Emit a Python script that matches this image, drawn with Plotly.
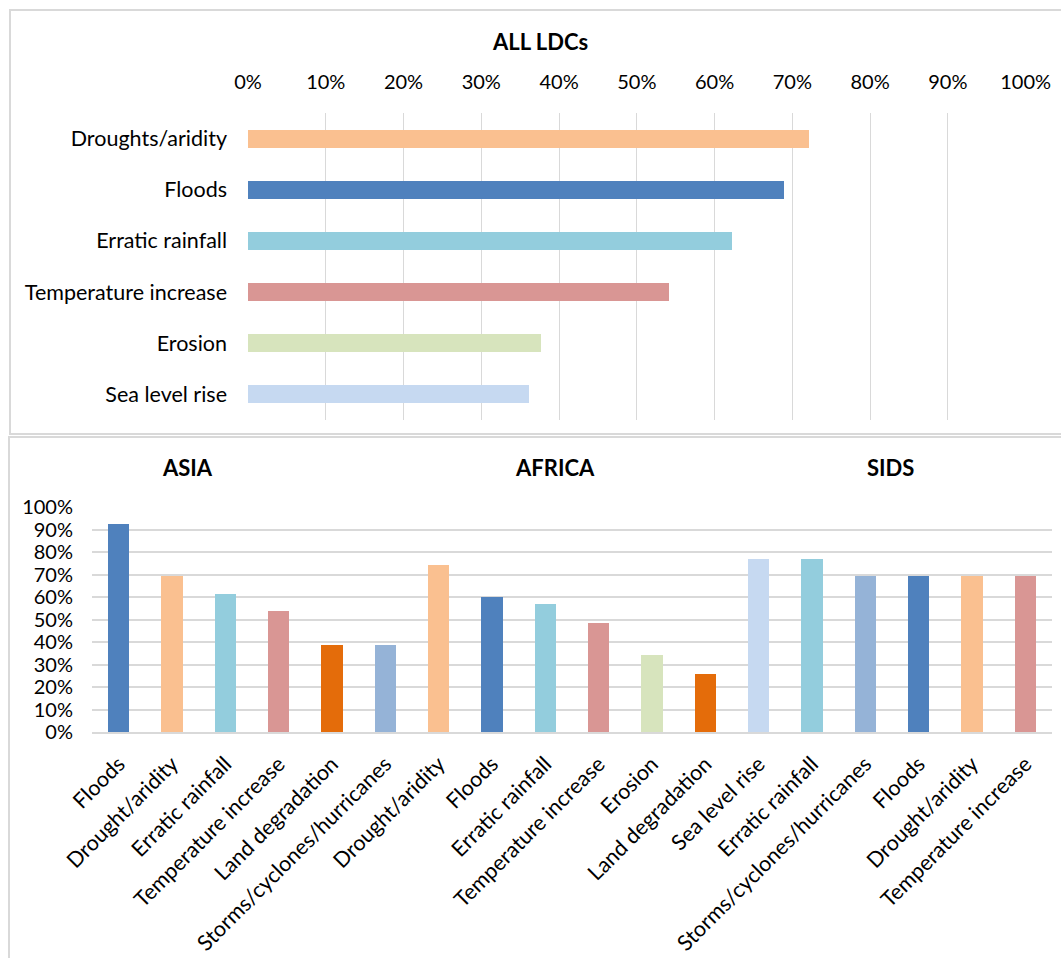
import plotly.graph_objects as go

W, H = 1061, 958

# ---- Data ----
ldc_categories = ["Droughts/aridity", "Floods", "Erratic rainfall",
                  "Temperature increase", "Erosion", "Sea level rise"]
ldc_values = [0.721, 0.689, 0.623, 0.541, 0.377, 0.361]

asia_categories = ["Floods", "Drought/aridity", "Erratic rainfall",
                   "Temperature increase", "Land degradation",
                   "Storms/cyclones/hurricanes"]
asia_values = [0.923, 0.692, 0.615, 0.538, 0.385, 0.385]

africa_categories = ["Drought/aridity", "Floods", "Erratic rainfall",
                     "Temperature increase", "Erosion", "Land degradation"]
africa_values = [0.743, 0.600, 0.571, 0.486, 0.343, 0.257]

sids_categories = ["Sea level rise", "Erratic rainfall",
                   "Storms/cyclones/hurricanes", "Floods",
                   "Drought/aridity", "Temperature increase"]
sids_values = [0.769, 0.769, 0.692, 0.692, 0.692, 0.692]

group_titles = ["ASIA", "AFRICA", "SIDS"]

# ---- Styles ----
hazard_colors = {
    "Floods": "#4F81BD",
    "Droughts/aridity": "#FAC090",
    "Drought/aridity": "#FAC090",
    "Erratic rainfall": "#93CDDD",
    "Temperature increase": "#D99694",
    "Erosion": "#D7E4BD",
    "Sea level rise": "#C6D9F1",
    "Land degradation": "#E46C0A",
    "Storms/cyclones/hurricanes": "#95B3D7",
}
FONT = "Lato"
GRID = "#d9d9d9"
TXT = "#000000"
NUM = 20   # percentage tick labels
CAT = 21.5  # category labels


def px_x(p):
    return p / W


def px_y(p):
    return 1 - p / H


bottom_categories = asia_categories + africa_categories + sids_categories
bottom_values = asia_values + africa_values + sids_values
bottom_pos = list(range(len(bottom_categories)))

fig = go.Figure()

fig.add_trace(go.Bar(
    x=ldc_values, y=ldc_categories, orientation="h",
    marker=dict(color=[hazard_colors[c] for c in ldc_categories], line=dict(width=0)),
    width=0.35, xaxis="x", yaxis="y", showlegend=False,
))

fig.add_trace(go.Bar(
    x=bottom_pos, y=bottom_values,
    marker=dict(color=[hazard_colors[c] for c in bottom_categories], line=dict(width=0)),
    width=0.4, xaxis="x2", yaxis="y2", showlegend=False,
))

pct_ticks = [i / 10 for i in range(11)]
pct_text = [f"{i * 10}%" for i in range(11)]

fig.update_layout(
    width=W, height=H,
    margin=dict(l=0, r=0, t=0, b=0, autoexpand=False),
    paper_bgcolor="white", plot_bgcolor="white",
    font=dict(family=FONT, size=NUM, color=TXT),
    bargap=0,
    xaxis=dict(
        domain=[px_x(248), px_x(1026)], anchor="y", side="top", automargin=False,
        range=[0, 1.0005], tickvals=pct_ticks, ticktext=pct_text,
        showgrid=True, gridcolor=GRID, gridwidth=1, zeroline=False,
        showline=False, ticks="", ticklabelstandoff=19,
        tickfont=dict(family=FONT, size=NUM, color=TXT), fixedrange=True,
    ),
    yaxis=dict(
        domain=[px_y(420), px_y(113)], anchor="x", automargin=False,
        categoryorder="array", categoryarray=ldc_categories,
        autorange="reversed", showgrid=False, zeroline=False, showline=False,
        ticks="", ticklabelstandoff=20,
        tickfont=dict(family=FONT, size=CAT, color=TXT), fixedrange=True,
    ),
    xaxis2=dict(
        domain=[px_x(92), px_x(1052)], anchor="y2", automargin=False,
        range=[-0.5, len(bottom_categories) - 0.5],
        tickvals=bottom_pos, ticktext=bottom_categories, tickangle=-45,
        showgrid=False, zeroline=False, showline=True, linecolor=GRID, linewidth=2,
        ticks="", ticklabelstandoff=9,
        tickfont=dict(family=FONT, size=CAT, color=TXT), fixedrange=True,
    ),
    yaxis2=dict(
        domain=[px_y(732), px_y(507)], anchor="x2", automargin=False,
        range=[0, 1.0], tickvals=pct_ticks, ticktext=pct_text,
        showgrid=True, gridcolor=GRID, gridwidth=2, zeroline=False, showline=False,
        ticks="", ticklabelstandoff=18,
        tickfont=dict(family=FONT, size=NUM, color=TXT), fixedrange=True,
    ),
)

annotations = [dict(text="<b>ALL LDCs</b>", x=px_x(540), y=px_y(42), xref="paper", yref="paper",
                    xanchor="center", yanchor="middle",
                    showarrow=False, font=dict(family=FONT, size=22, color=TXT))]
for title, cx in zip(group_titles, [187, 555, 890]):
    annotations.append(dict(text=f"<b>{title}</b>", x=px_x(cx), y=px_y(467), xref="paper", yref="paper",
                            xanchor="center", yanchor="middle",
                            showarrow=False, font=dict(family=FONT, size=22, color=TXT)))
fig.update_layout(annotations=annotations)

# Panel borders
fig.update_layout(shapes=[
    dict(type="rect", xref="paper", yref="paper", x0=px_x(10), x1=px_x(1070),
         y0=px_y(434), y1=px_y(10), line=dict(color=GRID, width=2), fillcolor="rgba(0,0,0,0)", layer="below"),
    dict(type="rect", xref="paper", yref="paper", x0=px_x(9), x1=px_x(1070),
         y0=px_y(970), y1=px_y(437), line=dict(color=GRID, width=2), fillcolor="rgba(0,0,0,0)", layer="below"),
])

fig.write_html(
    "out.html",
    post_script="document.body.style.margin='0';document.body.style.overflow='hidden';",
)
